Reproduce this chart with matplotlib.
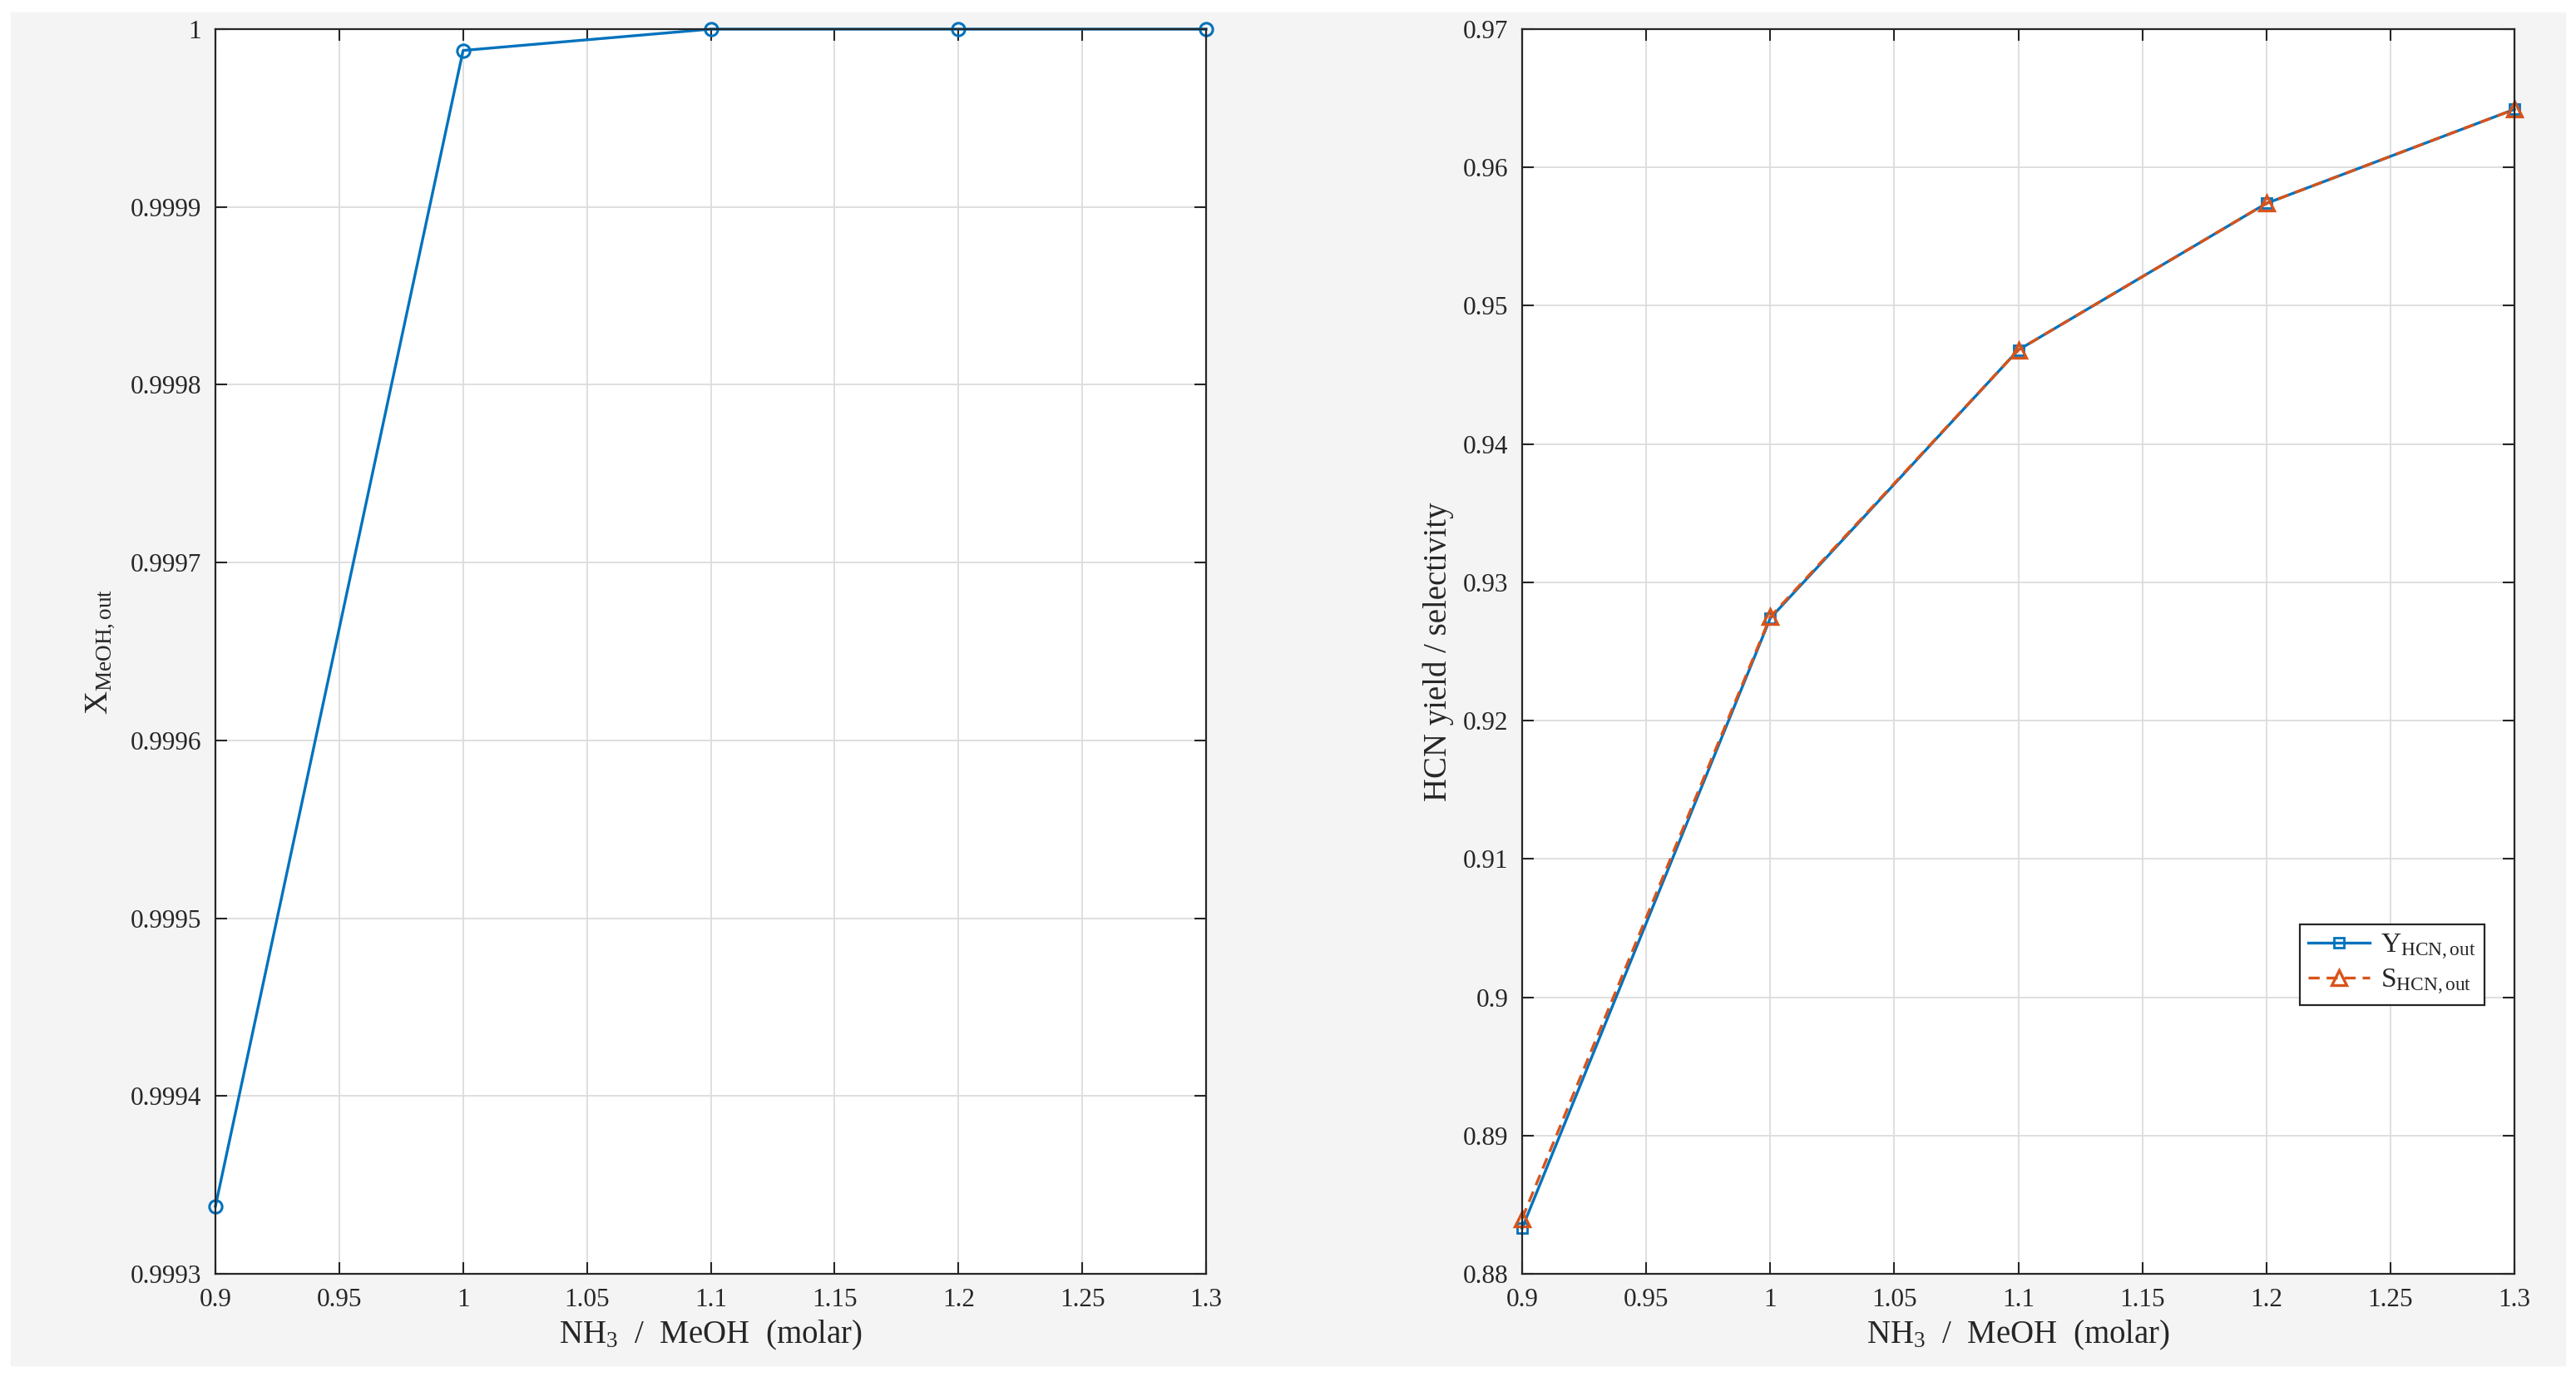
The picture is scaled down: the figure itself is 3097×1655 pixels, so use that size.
import numpy as np
import matplotlib
matplotlib.use('Agg')
import matplotlib.pyplot as plt
from matplotlib.patches import Rectangle
from matplotlib.ticker import FuncFormatter

plt.rcParams['font.family'] = ['Liberation Serif', 'DejaVu Serif']
plt.rcParams['mathtext.fontset'] = 'custom'
plt.rcParams['mathtext.rm'] = 'Liberation Serif'
plt.rcParams['mathtext.it'] = 'Liberation Serif:italic'
plt.rcParams['mathtext.bf'] = 'Liberation Serif:bold'

# data
ratio = [0.9, 1.0, 1.1, 1.2, 1.3]
x_meoh = [0.999338, 0.999988, 1.0, 1.0, 1.0]
y_hcn = [0.8833, 0.9274, 0.9468, 0.9574, 0.9642]
s_hcn = [0.8840, 0.9275, 0.9468, 0.9574, 0.9642]

xticks = [0.9, 0.95, 1.0, 1.05, 1.1, 1.15, 1.2, 1.25, 1.3]
yticks_left = [0.9993, 0.9994, 0.9995, 0.9996, 0.9997, 0.9998, 0.9999, 1.0]
yticks_right = [0.88, 0.89, 0.90, 0.91, 0.92, 0.93, 0.94, 0.95, 0.96, 0.97]

blue = '#0072BD'
orange = '#D95319'
txt = '#262626'

W, H = 3097, 1655
fig = plt.figure(figsize=(W / 100, H / 100), dpi=100)
fig.patch.set_facecolor('white')
fig.patches.append(Rectangle((13 / W, (H - 1641) / H), (3084 - 13) / W, (1641 - 15) / H,
                             transform=fig.transFigure, color='#f4f4f4', zorder=-10))

fmt = FuncFormatter(lambda v, p: '%g' % round(v, 6))


def style(ax):
    ax.set_facecolor('white')
    ax.grid(True, color='#dcdcdc', lw=1.3)
    ax.set_axisbelow(True)
    ax.tick_params(direction='in', length=10, width=1.5, top=True, right=True,
                   labelsize=22.5, colors=txt, pad=12)
    for sp in ax.spines.values():
        sp.set_linewidth(1.6)
        sp.set_color(txt)
    ax.xaxis.set_major_formatter(fmt)
    ax.yaxis.set_major_formatter(fmt)
    ax.set_xlim(0.9, 1.3)
    ax.set_xticks(xticks)
    ax.set_xlabel(r'NH$_3$  /  MeOH  (molar)', fontsize=28, color=txt, labelpad=6)


ax1 = fig.add_axes([259 / W, (H - 1531) / H, (1450 - 259) / W, (1531 - 35) / H])
style(ax1)
ax1.plot(ratio, x_meoh, color=blue, lw=2.4, marker='o', ms=11, mfc='none', mew=2.2, clip_on=False)
ax1.set_ylim(0.9993, 1.0)
ax1.set_yticks(yticks_left)
ax1.set_ylabel(r'X$_{\mathrm{MeOH,out}}$', fontsize=28, color=txt, labelpad=12)

ax2 = fig.add_axes([1830 / W, (H - 1531) / H, (3023 - 1830) / W, (1531 - 35) / H])
style(ax2)
ax2.plot(ratio, y_hcn, color=blue, lw=2.4, marker='s', ms=9, mfc='none', mew=2,
         label=r'Y$_{\mathrm{HCN,out}}$', clip_on=False)
ax2.plot(ratio, s_hcn, color=orange, lw=2.4, ls=(0, (4, 2.5)), marker='^', ms=13, mfc='none', mew=2.4,
         label=r'S$_{\mathrm{HCN,out}}$', clip_on=False)
ax2.set_ylim(0.88, 0.97)
ax2.set_yticks(yticks_right)
ax2.set_ylabel('HCN yield / selectivity', fontsize=28, color=txt, labelpad=8)

leg = ax2.legend(loc='upper left', bbox_to_anchor=(0.784, 0.281), borderaxespad=0,
                 fontsize=24, fancybox=False, framealpha=1, edgecolor=txt,
                 handlelength=2.2, handletextpad=0.4, labelspacing=0.2, borderpad=0.3)
leg.get_frame().set_linewidth(1.6)
for t in leg.get_texts():
    t.set_color(txt)

fig.savefig('out.png', dpi=100)
